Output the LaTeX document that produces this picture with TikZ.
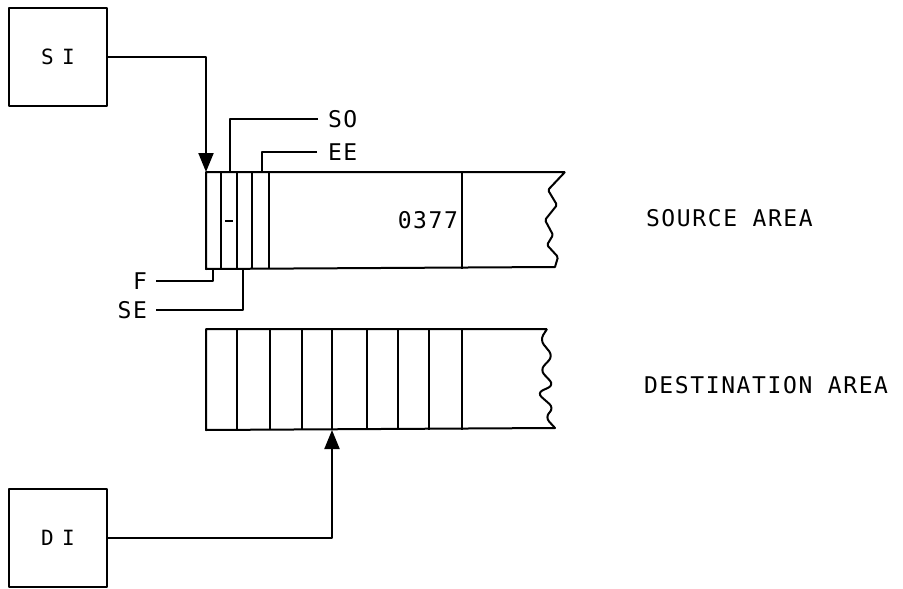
\documentclass[tikz,border=0pt]{standalone}
\usepackage{fontspec}
\newfontfamily\plotfont{DejaVu Sans Mono}[LetterSpace=7]
\newfontfamily\boxfont{DejaVu Sans Mono}[LetterSpace=40]
\usetikzlibrary{arrows.meta, positioning}

\begin{document}
\begin{tikzpicture}[x=1pt, y=-1pt, line width=2pt, line join=round, font=\plotfont\fontsize{23}{23}\selectfont]
    \tikzstyle{ptr} = [rectangle, draw, minimum width=98pt, minimum height=98pt, inner sep=0pt, font=\boxfont\fontsize{21}{21}\selectfont]
    \tikzstyle{area} = [rectangle, inner sep=0pt, anchor=north west]
    \tikzstyle{tag} = [inner sep=0pt]
    \tikzstyle{arrow} = [-{Triangle[width=15pt,length=19pt]}]

    \useasboundingbox (0,0) rectangle (903,589);

    \node [ptr] (si) at (58,57) {SI};
    \node [ptr] (di) at (58,538) {DI};

    \node [area, minimum width=357pt, minimum height=95pt] (src) at (206,172) {};
    \node [area, minimum width=339pt, minimum height=99pt] (dst) at (206,329) {};

    % source area with torn end
    \draw (src.north east) -- (src.north west) -- (src.south west) -- (555,267)
        [rounded corners=1.5pt] -- (558,257) -- (547,245) -- (553,235) -- (545,220) -- (557,205) -- (548,190) -- (src.north east);
    \foreach \x in {15,31,46,63,256}
        \draw ([xshift=\x pt]src.north west) -- ([xshift=\x pt]src.south west);
    \draw ([shift={(19,49)}]src.north west) -- ++(8,0);

    % destination area with torn end
    \draw (dst.north east) -- (dst.north west) -- (dst.south west) -- (555,428)
        [rounded corners=6pt] -- (545,417) -- (554,408) -- (537,393) -- (554,385) -- (540,370) -- (553,356) -- (540,340) -- (dst.north east);
    \foreach \x in {31,64,96,126,161,192,223,256}
        \draw ([xshift=\x pt]dst.north west) -- ([xshift=\x pt]dst.south west);

    \coordinate (s5) at ([xshift=256pt]src.west);
    \node [tag, left=3pt of s5] (val) {0377};

    \node [tag, anchor=west] (srclbl) at (645,218) {SOURCE AREA};
    \node [tag, anchor=west] (dstlbl) at (643,385) {DESTINATION AREA};

    \node [tag, anchor=west] (sotag) at (327,119) {SO};
    \node [tag, anchor=west] (eetag) at (327,152) {EE};
    \node [tag, anchor=east] (ftag) at (148,281) {F};
    \node [tag, anchor=east] (setag) at (148,310) {SE};

    \draw ([xshift=-9pt]sotag.west) -| ([xshift=24pt]src.north west);
    \draw ([xshift=-10pt]eetag.west) -| ([xshift=56pt]src.north west);
    \draw ([xshift=8pt]ftag.east) -| ([xshift=7pt]src.south west);
    \draw ([xshift=8pt]setag.east) -| ([xshift=37pt]src.south west);

    \draw [arrow] (si.east) -| (src.north west);
    \draw [arrow] (di.east) -| ([xshift=126pt]dst.south west);
\end{tikzpicture}
\end{document}
